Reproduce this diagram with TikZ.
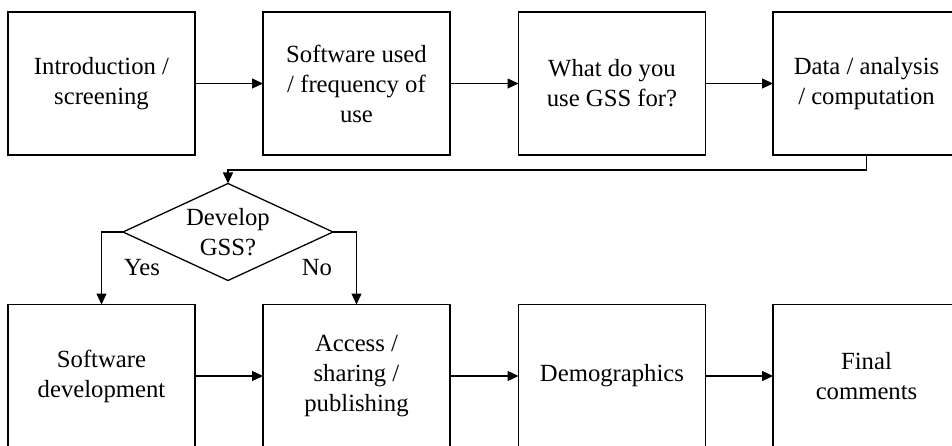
\documentclass[tikz,border=0pt]{standalone}
\usepackage{fontspec}
\setmainfont{Liberation Serif}
\usetikzlibrary{arrows.meta,shapes.geometric}
\begin{document}
\begin{tikzpicture}[x=1pt,y=-1pt,
  box/.style={draw,line width=1.3pt,minimum width=187pt,minimum height=143pt,inner sep=0pt,outer sep=0pt,align=center,font=\fontsize{24.7}{30}\selectfont},
  arr/.style={line width=1.3pt,-{Triangle[length=11pt,width=10pt]}},
  lbl/.style={font=\fontsize{24.7}{30}\selectfont,inner sep=0pt,align=center}]
\useasboundingbox (0,0) rectangle (952,446);
\node[box] (b1) at (101.5,83.5) {Introduction /\\screening};
\node[box] (b2) at (356.5,83.5) {Software used\\/ frequency of\\use};
\node[box] (b3) at (612,83.5) {What do you\\use GSS for?};
\node[box] (b4) at (866.5,83.5) {Data / analysis\\/ computation};
\node[draw,line width=1.3pt,diamond,aspect=2.165,minimum width=210pt,minimum height=97pt,inner sep=0pt,outer sep=0pt] (d) at (228,232) {};
\node[lbl] (dt) at (228,232) {Develop\\GSS?};
\node[box] (b5) at (101.5,376) {Software\\development};
\node[box] (b6) at (356.5,376) {Access /\\sharing /\\publishing};
\node[box] (b7) at (612,376) {Demographics};
\node[box] (b8) at (866.5,376) {Final\\comments};
\draw[arr] (b1) -- (b2);
\draw[arr] (b2) -- (b3);
\draw[arr] (b3) -- (b4);
\draw[arr] (b4.south) -- ++(0,15) -| (d.north);
\draw[arr] (d.west) -| (b5.north);
\draw[arr] (d.east) -| (b6.north);
\draw[arr] (b5) -- (b6);
\draw[arr] (b6) -- (b7);
\draw[arr] (b7) -- (b8);
\node[lbl] (yes) at (142,268) {Yes};
\node[lbl] (no) at (317,268) {No};
\end{tikzpicture}
\end{document}
